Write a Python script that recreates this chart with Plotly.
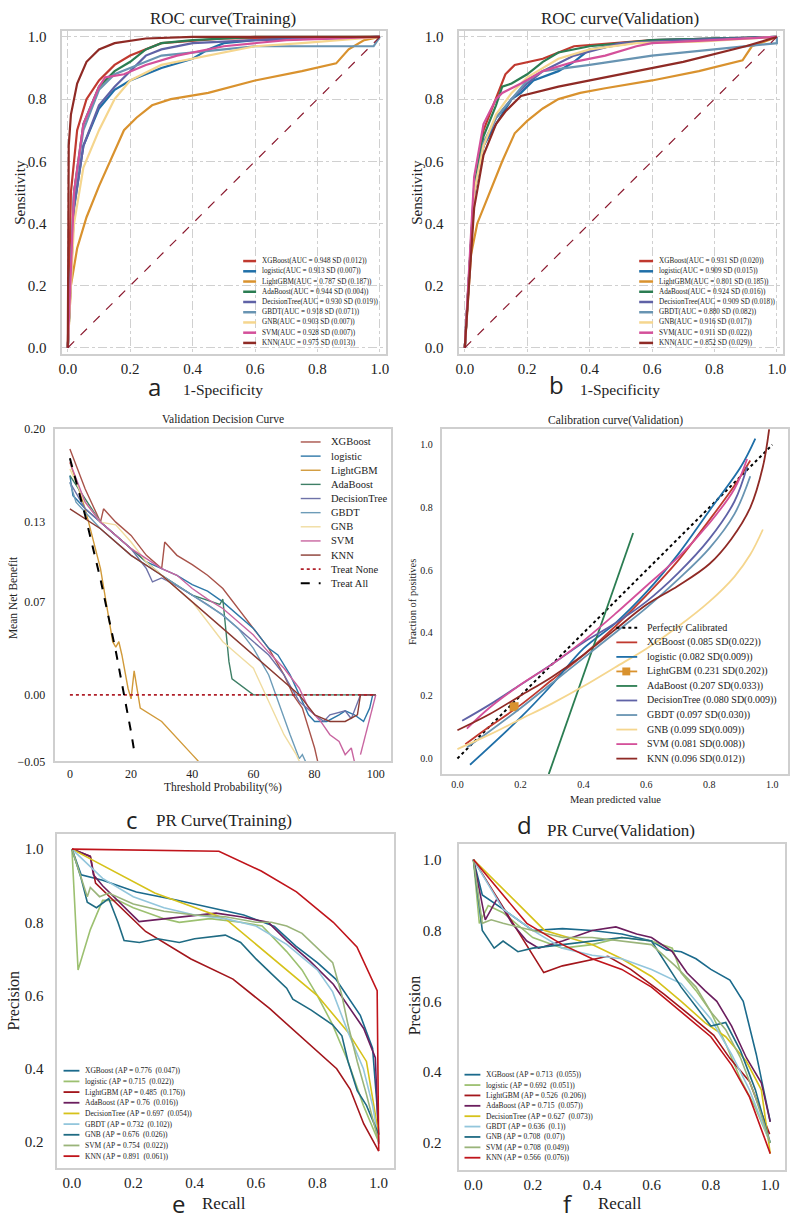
"""
Six-panel model comparison figure:
ROC (training / validation), decision curve, calibration curve, PR curves.
"""

import plotly.graph_objects as go

W, H = 799, 1227

MODELS = ["XGBoost", "logistic", "LightGBM", "AdaBoost", "DecisionTree",
          "GBDT", "GNB", "SVM", "KNN"]

# ---------------- ROC (training) ----------------
roc_tr = {
    "XGBoost": ([0, 0.01, 0.03, 0.06, 0.1, 0.15, 0.2, 0.3, 0.5, 1.0],
                [0, 0.5, 0.7, 0.8, 0.86, 0.91, 0.94, 0.98, 0.995, 1.0]),
    "logistic": ([0, 0.02, 0.05, 0.1, 0.15, 0.2, 0.3, 0.4, 0.45, 0.5, 0.6, 1.0],
                 [0, 0.45, 0.65, 0.77, 0.83, 0.86, 0.9, 0.93, 0.96, 0.98, 0.99, 1.0]),
    "LightGBM": ([0, 0.01, 0.03, 0.06, 0.1, 0.15, 0.18, 0.22, 0.27, 0.33, 0.45, 0.6, 0.75, 0.86, 0.9, 0.95, 1.0],
                 [0, 0.2, 0.32, 0.42, 0.52, 0.63, 0.7, 0.74, 0.78, 0.8, 0.82, 0.86, 0.89, 0.915, 0.96, 0.99, 1.0]),
    "AdaBoost": ([0, 0.02, 0.05, 0.1, 0.15, 0.2, 0.25, 0.3, 0.4, 0.6, 1.0],
                 [0, 0.5, 0.72, 0.84, 0.89, 0.92, 0.96, 0.98, 0.99, 1.0, 1.0]),
    "DecisionTree": ([0, 0.02, 0.05, 0.1, 0.15, 0.2, 0.25, 0.3, 0.4, 0.6, 1.0],
                     [0, 0.45, 0.65, 0.78, 0.84, 0.89, 0.94, 0.96, 0.98, 0.99, 1.0]),
    "GBDT": ([0, 0.02, 0.05, 0.1, 0.15, 0.2, 0.3, 0.5, 0.6, 0.98, 1.0],
             [0, 0.5, 0.7, 0.83, 0.88, 0.9, 0.94, 0.96, 0.97, 0.97, 1.0]),
    "GNB": ([0, 0.02, 0.05, 0.1, 0.15, 0.2, 0.3, 0.45, 0.6, 0.75, 1.0],
            [0, 0.4, 0.58, 0.7, 0.8, 0.86, 0.91, 0.94, 0.97, 0.98, 1.0]),
    "SVM": ([0, 0.02, 0.05, 0.1, 0.12, 0.18, 0.25, 0.35, 0.5, 0.7, 1.0],
            [0, 0.5, 0.72, 0.84, 0.87, 0.88, 0.91, 0.94, 0.97, 0.99, 1.0]),
    "KNN": ([0, 0.003, 0.01, 0.03, 0.06, 0.1, 0.15, 0.25, 0.4, 1.0],
            [0, 0.65, 0.75, 0.85, 0.92, 0.96, 0.98, 0.995, 1.0, 1.0]),
}
roc_tr_labels = ["XGBoost(AUC = 0.948 SD (0.012))", "logistic(AUC = 0.913 SD (0.007))",
                 "LightGBM(AUC = 0.787 SD (0.187))", "AdaBoost(AUC = 0.944 SD (0.004))",
                 "DecisionTree(AUC = 0.930 SD (0.019))", "GBDT(AUC = 0.918 SD (0.071))",
                 "GNB(AUC = 0.903 SD (0.007))", "SVM(AUC = 0.928 SD (0.007))",
                 "KNN(AUC = 0.975 SD (0.013))"]

# ---------------- ROC (validation) ----------------
roc_va = {
    "XGBoost": ([0, 0.03, 0.06, 0.1, 0.13, 0.16, 0.25, 0.35, 0.6, 1.0],
                [0, 0.5, 0.7, 0.8, 0.88, 0.91, 0.93, 0.97, 0.99, 1.0]),
    "logistic": ([0, 0.03, 0.06, 0.1, 0.15, 0.18, 0.22, 0.3, 0.35, 0.4, 0.6, 1.0],
                 [0, 0.5, 0.65, 0.72, 0.8, 0.82, 0.86, 0.89, 0.92, 0.96, 0.99, 1.0]),
    "LightGBM": ([0, 0.02, 0.04, 0.08, 0.12, 0.16, 0.2, 0.25, 0.3, 0.37, 0.45, 0.6, 0.75, 0.89, 0.92, 1.0],
                 [0, 0.3, 0.4, 0.5, 0.6, 0.69, 0.73, 0.77, 0.8, 0.82, 0.835, 0.86, 0.89, 0.925, 0.97, 1.0]),
    "AdaBoost": ([0, 0.03, 0.06, 0.1, 0.12, 0.15, 0.2, 0.25, 0.3, 0.4, 0.6, 1.0],
                 [0, 0.52, 0.68, 0.78, 0.84, 0.85, 0.88, 0.92, 0.95, 0.97, 0.99, 1.0]),
    "DecisionTree": ([0, 0.03, 0.06, 0.1, 0.15, 0.2, 0.25, 0.35, 0.5, 0.7, 1.0],
                     [0, 0.5, 0.65, 0.74, 0.8, 0.85, 0.89, 0.94, 0.98, 0.99, 1.0]),
    "GBDT": ([0, 0.03, 0.06, 0.1, 0.15, 0.2, 0.25, 0.4, 0.6, 0.8, 1.0, 1.0],
             [0, 0.5, 0.66, 0.74, 0.8, 0.86, 0.89, 0.91, 0.94, 0.96, 0.98, 1.0]),
    "GNB": ([0, 0.03, 0.06, 0.1, 0.15, 0.2, 0.3, 0.4, 0.55, 0.75, 1.0],
            [0, 0.5, 0.65, 0.75, 0.82, 0.87, 0.93, 0.96, 0.98, 0.985, 1.0]),
    "SVM": ([0, 0.03, 0.06, 0.1, 0.12, 0.18, 0.25, 0.35, 0.45, 0.55, 0.6, 1.0],
            [0, 0.55, 0.72, 0.8, 0.82, 0.85, 0.89, 0.92, 0.94, 0.97, 0.98, 1.0]),
    "KNN": ([0, 0.03, 0.06, 0.1, 0.13, 0.18, 0.3, 0.5, 0.7, 0.9, 1.0],
            [0, 0.45, 0.62, 0.72, 0.76, 0.81, 0.84, 0.88, 0.92, 0.97, 1.0]),
}
roc_va_labels = ["XGBoost(AUC = 0.931 SD (0.020))", "logistic(AUC = 0.909 SD (0.015))",
                 "LightGBM(AUC = 0.801 SD (0.185))", "AdaBoost(AUC = 0.924 SD (0.016))",
                 "DecisionTree(AUC = 0.909 SD (0.018))", "GBDT(AUC = 0.880 SD (0.082))",
                 "GNB(AUC = 0.916 SD (0.017))", "SVM(AUC = 0.911 SD (0.022))",
                 "KNN(AUC = 0.852 SD (0.029))"]

# ---------------- Decision curve (validation) ----------------
dca = {
    "XGBoost": ([0, 5, 10, 11, 15, 20, 25, 30, 31, 35, 40, 45, 50, 55, 60, 65, 70, 73, 76, 80, 81],
                [0.185, 0.155, 0.13, 0.14, 0.13, 0.12, 0.105, 0.095, 0.115, 0.105, 0.098, 0.09, 0.08,
                 0.065, 0.05, 0.035, 0.015, 0.0, -0.01, -0.04, -0.05]),
    "logistic": ([0, 1, 5, 10, 15, 20, 25, 30, 35, 40, 45, 50, 55, 60, 65, 68, 72, 75, 78, 80, 84, 88, 90, 93, 96, 98, 99, 100],
                 [0.165, 0.15, 0.14, 0.13, 0.12, 0.11, 0.1, 0.095, 0.09, 0.083, 0.078, 0.07, 0.06, 0.05,
                  0.035, 0.03, 0.015, 0.0, -0.015, -0.02, -0.02, -0.015, -0.012, -0.015, -0.02, -0.01, 0.0, 0.0]),
    "LightGBM": ([0, 5, 10, 14, 15, 16, 17, 19, 20, 21, 23, 30, 40, 42],
                 [0.175, 0.14, 0.095, 0.04, 0.036, 0.04, 0.03, 0.005, -0.003, 0.018, -0.01, -0.02, -0.045, -0.05]),
    "AdaBoost": ([0, 10, 20, 30, 40, 49, 50, 51, 52, 53, 57, 60, 100],
                 [0.165, 0.13, 0.11, 0.09, 0.075, 0.068, 0.072, 0.05, 0.025, 0.012, 0.005, 0.0, 0.0]),
    "DecisionTree": ([0, 5, 10, 20, 25, 27, 30, 35, 40, 45, 50, 55, 60, 65, 70, 75, 80, 83, 85, 90, 92, 95, 100],
                     [0.16, 0.14, 0.13, 0.11, 0.095, 0.085, 0.088, 0.082, 0.075, 0.068, 0.06, 0.05, 0.04, 0.03,
                      0.015, -0.005, -0.015, -0.02, -0.015, -0.012, -0.018, 0.0, 0.0]),
    "GBDT": ([0, 2, 10, 20, 30, 40, 50, 55, 60, 65, 68, 72, 75, 76, 77],
             [0.16, 0.145, 0.125, 0.105, 0.09, 0.075, 0.06, 0.05, 0.035, 0.015, -0.005, -0.03, -0.048, -0.045, -0.05]),
    "GNB": ([0, 5, 10, 15, 20, 25, 30, 35, 40, 45, 50, 55, 60, 63, 66, 70, 74, 75],
            [0.17, 0.145, 0.13, 0.128, 0.115, 0.1, 0.09, 0.08, 0.07, 0.055, 0.04, 0.03, 0.02, 0.005, -0.01,
             -0.03, -0.045, -0.05]),
    "SVM": ([0, 5, 10, 20, 30, 35, 40, 45, 50, 55, 60, 65, 70, 75, 78, 82, 85, 88, 90, 92, 93, None, 95, 100],
            [0.175, 0.145, 0.13, 0.11, 0.095, 0.09, 0.08, 0.072, 0.065, 0.055, 0.045, 0.032, 0.02, 0.005,
             -0.01, -0.02, -0.03, -0.035, -0.045, -0.04, -0.05, None, -0.045, 0.0]),
    "KNN": ([0, 10, 20, 30, 40, 50, 60, 70, 75, 80, 85, 90, 94, 95, 100],
            [0.14, 0.125, 0.105, 0.09, 0.07, 0.05, 0.03, 0.01, 0.0, -0.015, -0.02, -0.02, -0.015, 0.0, 0.0]),
}
treat_all_x = [0, 5, 10, 15, 20, 21]
treat_all_y = [0.178, 0.135, 0.087, 0.033, -0.028, -0.042]
treat_none_x = [0, 100]
treat_none_y = [0, 0]
dca_ticks = [-0.05, 0.0, 0.07, 0.13, 0.20]

# ---------------- Calibration (validation) ----------------
calib = {
    "XGBoost": ([0.025, 0.1, 0.2, 0.3, 0.4, 0.5, 0.6, 0.7, 0.8, 0.88, 0.93],
                [0.045, 0.1, 0.17, 0.25, 0.33, 0.42, 0.52, 0.63, 0.76, 0.87, 0.95]),
    "logistic": ([0.04, 0.2, 0.3, 0.4, 0.5, 0.6, 0.7, 0.8, 0.9, 0.946],
                 [-0.02, 0.13, 0.235, 0.35, 0.43, 0.53, 0.65, 0.79, 0.93, 1.02]),
    "LightGBM": ([0.18], [0.165]),
    "AdaBoost": ([0.29, 0.558], [-0.05, 0.719]),
    "DecisionTree": ([0.015, 0.1, 0.2, 0.3, 0.4, 0.5, 0.6, 0.7, 0.8, 0.88, 0.92],
                     [0.12, 0.17, 0.235, 0.3, 0.37, 0.43, 0.5, 0.59, 0.7, 0.82, 0.93]),
    "GBDT": ([0.03, 0.1, 0.2, 0.3, 0.4, 0.5, 0.6, 0.7, 0.8, 0.88, 0.93],
             [0.035, 0.085, 0.16, 0.24, 0.32, 0.4, 0.48, 0.57, 0.67, 0.78, 0.9]),
    "GNB": ([0.0, 0.1, 0.2, 0.3, 0.4, 0.5, 0.6, 0.7, 0.8, 0.88, 0.93, 0.97],
            [0.03, 0.075, 0.125, 0.175, 0.23, 0.29, 0.35, 0.42, 0.5, 0.58, 0.65, 0.73]),
    "SVM": ([0.03, 0.1, 0.2, 0.3, 0.4, 0.5, 0.6, 0.7, 0.8, 0.88, 0.92],
            [0.095, 0.16, 0.235, 0.3, 0.375, 0.46, 0.55, 0.64, 0.75, 0.86, 0.955]),
    "KNN": ([0.0, 0.1, 0.2, 0.3, 0.4, 0.5, 0.6, 0.7, 0.8, 0.87, 0.93, 0.97, 0.99],
            [0.09, 0.14, 0.2, 0.26, 0.33, 0.41, 0.49, 0.55, 0.62, 0.7, 0.8, 0.93, 1.05]),
}
calib_labels = ["Perfectly Calibrated", "XGBoost (0.085 SD(0.022))", "logistic (0.082 SD(0.009))",
                "LightGBM (0.231 SD(0.202))", "AdaBoost (0.207 SD(0.033))",
                "DecisionTree (0.080 SD(0.009))", "GBDT (0.097 SD(0.030))",
                "GNB (0.099 SD(0.009))", "SVM (0.081 SD(0.008))", "KNN (0.096 SD(0.012))"]

# ---------------- PR (training) ----------------
pr_tr = {
    "XGBoost": ([0, 0.03, 0.1, 0.21, 0.34, 0.47, 0.56, 0.66, 0.73, 0.8, 0.86, 0.94, 0.98, 0.995, 1.0],
                [1.0, 0.93, 0.915, 0.883, 0.861, 0.838, 0.82, 0.789, 0.735, 0.69, 0.645, 0.546, 0.456, 0.294, 0.22]),
    "logistic": ([0, 0.02, 0.06, 0.1, 0.15, 0.2, 0.3, 0.35, 0.45, 0.55, 0.62, 0.7, 0.75, 0.8, 0.85, 0.9, 0.95, 1.0],
                 [1.0, 0.67, 0.78, 0.86, 0.86, 0.84, 0.81, 0.8, 0.81, 0.8, 0.79, 0.72, 0.67, 0.6, 0.52, 0.42, 0.3, 0.2]),
    "LightGBM": ([0, 0.06, 0.077, 0.24, 0.388, 0.525, 0.645, 0.754, 0.863, 0.907, 0.951, 1.0],
                 [1.0, 0.98, 0.907, 0.775, 0.7, 0.645, 0.564, 0.483, 0.4, 0.344, 0.25, 0.175]),
    "AdaBoost": ([0, 0.06, 0.07, 0.1, 0.219, 0.3, 0.4, 0.47, 0.55, 0.64, 0.7, 0.776, 0.852, 0.951, 0.989, 1.0],
                 [1.0, 0.98, 0.93, 0.9, 0.802, 0.81, 0.82, 0.825, 0.815, 0.8, 0.75, 0.694, 0.631, 0.51, 0.43, 0.195]),
    "DecisionTree": ([0, 0.27, 0.5, 0.6, 0.7, 0.8, 0.9, 0.96, 1.0],
                     [1.0, 0.88, 0.81, 0.74, 0.67, 0.6, 0.5, 0.42, 0.22]),
    "GBDT": ([0, 0.1, 0.2, 0.3, 0.4, 0.5, 0.6, 0.7, 0.8, 0.85, 0.9, 0.95, 0.98, 1.0],
             [1.0, 0.92, 0.87, 0.84, 0.82, 0.81, 0.79, 0.74, 0.67, 0.61, 0.5, 0.4, 0.3, 0.2]),
    "GNB": ([0, 0.03, 0.05, 0.08, 0.12, 0.15, 0.17, 0.22, 0.28, 0.35, 0.4, 0.5, 0.55, 0.6, 0.65, 0.7,
             0.72, 0.78, 0.85, 0.88, 0.9, 0.93, 0.96, 1.0],
            [1.0, 0.92, 0.855, 0.84, 0.865, 0.8, 0.75, 0.745, 0.755, 0.745, 0.755, 0.765, 0.745, 0.7, 0.66,
             0.62, 0.59, 0.56, 0.52, 0.49, 0.42, 0.34, 0.3, 0.22]),
    "SVM": ([0, 0.05, 0.06, 0.09, 0.12, 0.2, 0.3, 0.4, 0.5, 0.6, 0.65, 0.7, 0.75, 0.8, 0.85, 0.88, 0.9,
             0.93, 0.96, 1.0],
            [1.0, 0.87, 0.895, 0.87, 0.88, 0.85, 0.83, 0.82, 0.815, 0.8, 0.8, 0.79, 0.77, 0.73, 0.69, 0.6,
             0.52, 0.42, 0.33, 0.2]),
    "KNN": ([0, 0.479, 0.617, 0.732, 0.852, 0.929, 0.995, 1.0],
            [1.0, 0.994, 0.94, 0.883, 0.8, 0.733, 0.613, 0.175]),
}
pr_tr_labels = ["XGBoost (AP = 0.776  (0.047))", "logistic (AP = 0.715  (0.022))",
                "LightGBM (AP = 0.485  (0.176))", "AdaBoost (AP = 0.76  (0.016))",
                "DecisionTree (AP = 0.697  (0.054))", "GBDT (AP = 0.732  (0.102))",
                "GNB (AP = 0.676  (0.026))", "SVM (AP = 0.754  (0.022))",
                "KNN (AP = 0.891  (0.061))"]

# ---------------- PR (validation) ----------------
pr_va = {
    "XGBoost": ([0, 0.03, 0.1, 0.2, 0.3, 0.4, 0.5, 0.6, 0.65, 0.7, 0.75, 0.8, 0.864, 0.909, 0.953, 0.992, 1.0],
                [1.0, 0.9, 0.86, 0.8, 0.805, 0.8, 0.79, 0.77, 0.745, 0.74, 0.72, 0.69, 0.66, 0.6, 0.45, 0.29, 0.26]),
    "logistic": ([0, 0.02, 0.05, 0.1, 0.2, 0.3, 0.4, 0.5, 0.6, 0.67, 0.7, 0.75, 0.8, 0.85, 0.9, 0.95, 1.0],
                 [1.0, 0.82, 0.87, 0.85, 0.78, 0.75, 0.76, 0.78, 0.77, 0.75, 0.68, 0.63, 0.57, 0.48, 0.38, 0.3, 0.2]),
    "LightGBM": ([0, 0.237, 0.3, 0.453, 0.53, 0.642, 0.73, 0.81, 0.864, 0.93, 0.998],
                 [1.0, 0.681, 0.7, 0.727, 0.69, 0.62, 0.56, 0.504, 0.439, 0.374, 0.225]),
    "AdaBoost": ([0, 0.04, 0.08, 0.13, 0.18, 0.22, 0.3, 0.4, 0.48, 0.55, 0.6, 0.67, 0.72, 0.78, 0.82,
                  0.87, 0.92, 0.97, 1.0],
                 [1.0, 0.83, 0.89, 0.82, 0.77, 0.75, 0.77, 0.8, 0.81, 0.79, 0.78, 0.74, 0.68, 0.63, 0.6,
                  0.53, 0.44, 0.37, 0.26]),
    "DecisionTree": ([0, 0.24, 0.4, 0.5, 0.6, 0.7, 0.78, 0.85, 0.92, 0.97, 1.0],
                     [1.0, 0.8, 0.76, 0.72, 0.67, 0.6, 0.54, 0.5, 0.43, 0.35, 0.17]),
    "GBDT": ([0, 0.1, 0.2, 0.3, 0.4, 0.5, 0.6, 0.7, 0.8, 0.87, 0.93, 1.0],
             [1.0, 0.86, 0.8, 0.75, 0.73, 0.72, 0.69, 0.65, 0.55, 0.45, 0.35, 0.2]),
    "GNB": ([0, 0.03, 0.07, 0.1, 0.15, 0.2, 0.3, 0.4, 0.5, 0.6, 0.7, 0.8, 0.85, 0.9, 0.95, 1.0],
            [1.0, 0.8, 0.75, 0.77, 0.74, 0.75, 0.76, 0.77, 0.78, 0.77, 0.64, 0.53, 0.54, 0.46, 0.35, 0.2]),
    "SVM": ([0, 0.03, 0.06, 0.1, 0.2, 0.3, 0.4, 0.5, 0.6, 0.68, 0.75, 0.8, 0.85, 0.9, 0.95, 1.0],
            [1.0, 0.82, 0.83, 0.82, 0.8, 0.78, 0.78, 0.77, 0.76, 0.7, 0.64, 0.57, 0.52, 0.44, 0.33, 0.2]),
    "KNN": ([0, 0.18, 0.3, 0.4, 0.5, 0.6, 0.7, 0.8, 0.87, 0.93, 1.0],
            [1.0, 0.82, 0.76, 0.72, 0.69, 0.64, 0.57, 0.5, 0.42, 0.33, 0.17]),
}
pr_va_labels = ["XGBoost (AP = 0.713  (0.055))", "logistic (AP = 0.692  (0.051))",
                "LightGBM (AP = 0.526  (0.206))", "AdaBoost (AP = 0.715  (0.057))",
                "DecisionTree (AP = 0.627  (0.073))", "GBDT (AP = 0.636  (0.1))",
                "GNB (AP = 0.708  (0.07))", "SVM (AP = 0.708  (0.049))",
                "KNN (AP = 0.566  (0.076))"]

# colour sets
roc_colors = ["#c0392f", "#1f6fa8", "#d9922e", "#2b7d52", "#5f62a6",
              "#6894b2", "#f5d68e", "#d4509a", "#8f2a25"]
dca_colors = ["#a8534a", "#2e78a8", "#d19a3a", "#3e7f66", "#6e72a8",
              "#6d9cb8", "#f0dca0", "#c865a0", "#8a3b32"]
pr_colors = ["#1b6a8c", "#9cc070", "#a3161c", "#6b1e5e", "#d6c21a",
             "#93c6dc", "#1f6b83", "#9ab47a", "#c0141b"]

SERIF = "Liberation Serif, Times New Roman, serif"
SANS = "Open Sans, DejaVu Sans, sans-serif"


def px(x):
    # window pixel -> paper fraction
    return x / W


def py(y):
    return 1 - y / H


fig = go.Figure()
shapes = []
annos = []


def axis_pair(n, xdom, ydom, xr, yr, grid, tick_font, xstand, ystand, xdtick, ytickvals, ytickfmt):
    common = dict(showline=True, mirror=True, linecolor="#cfcfcf", linewidth=2,
                  ticks="", zeroline=False, showgrid=grid, gridcolor="#d0d0d0",
                  griddash="dashdot", gridwidth=1,
                  tickfont=dict(family=SERIF, size=tick_font, color="#222"))
    xa = dict(domain=[px(xdom[0]), px(xdom[1])], range=xr, anchor="y%s" % n,
              ticklabelstandoff=xstand, **common)
    if xdtick == 20:
        xa.update(tick0=0, dtick=20)
    else:
        xa.update(tick0=0, dtick=0.2, tickformat=".1f")
    ya = dict(domain=[py(ydom[1]), py(ydom[0])], range=yr, anchor="x%s" % n,
              ticklabelstandoff=ystand, tickvals=ytickvals, tickformat=ytickfmt, **common)
    return xa, ya


def text(x, y, s, size, family=SERIF, angle=0, anchor="center"):
    annos.append(dict(x=px(x), y=py(y), xref="paper", yref="paper", text=s,
                      showarrow=False, xanchor=anchor, yanchor="middle",
                      textangle=angle, font=dict(family=family, size=size, color="#222")))


def legend(x0, seg, y0, step, labels, colors, dashes, widths, size, gap=4):
    for i, lab in enumerate(labels):
        y = y0 + i * step
        shapes.append(dict(type="line", xref="paper", yref="paper",
                           x0=px(x0), x1=px(x0 + seg), y0=py(y), y1=py(y),
                           line=dict(color=colors[i], width=widths[i], dash=dashes[i])))
        text(x0 + seg + gap, y, lab, size, anchor="left")


unit_ticks = [0.0, 0.2, 0.4, 0.6, 0.8, 1.0]
pr_ticks = [0.2, 0.4, 0.6, 0.8, 1.0]
layout_axes = {}

# ---- panel a ----
xa, ya = axis_pair("", (59, 386), (24, 351), [-0.02, 1.02], [-0.02, 1.02], True, 15, 0, 10,
                   0.2, unit_ticks, ".1f")
layout_axes["xaxis"], layout_axes["yaxis"] = xa, ya
for m, c in zip(MODELS, roc_colors):
    fig.add_trace(go.Scatter(x=roc_tr[m][0], y=roc_tr[m][1], mode="lines", name=m,
                             line=dict(color=c, width=2.2), xaxis="x", yaxis="y"))
fig.add_trace(go.Scatter(x=[0, 1], y=[0, 1], mode="lines", line=dict(color="#8b1a2f", width=1.2, dash="dash"),
                         xaxis="x", yaxis="y"))
legend(242, 13, 257, 10.35, roc_tr_labels, roc_colors, ["solid"] * 9, [2.5] * 9, 7.2)
text(222, 12, "ROC curve(Training)", 17)
text(17, 187, "Sensitivity", 15, angle=-90)
text(222, 387, "1-Specificity", 15.5)
text(153, 384, "a", 24, family=SANS)

# ---- panel b ----
xa, ya = axis_pair("2", (459, 786), (24, 351), [-0.02, 1.02], [-0.02, 1.02], True, 15, 0, 10,
                   0.2, unit_ticks, ".1f")
layout_axes["xaxis2"], layout_axes["yaxis2"] = xa, ya
for m, c in zip(MODELS, roc_colors):
    fig.add_trace(go.Scatter(x=roc_va[m][0], y=roc_va[m][1], mode="lines", name=m,
                             line=dict(color=c, width=2.2), xaxis="x2", yaxis="y2"))
fig.add_trace(go.Scatter(x=[0, 1], y=[0, 1], mode="lines", line=dict(color="#8b1a2f", width=1.2, dash="dash"),
                         xaxis="x2", yaxis="y2"))
legend(641, 14, 257, 10.35, roc_va_labels, roc_colors, ["solid"] * 9, [2.5] * 9, 7.2)
text(622, 12, "ROC curve(Validation)", 17)
text(417, 187, "Sensitivity", 15, angle=-90)
text(622, 387, "1-Specificity", 15.5)
text(558, 382, "b", 24, family=SANS)

# ---- panel c ----
xa, ya = axis_pair("3", (52, 391), (427, 763), [-5, 105], [-0.05, 0.20], False, 12, 0, 5,
                   20, dca_ticks, ".2f")
layout_axes["xaxis3"], layout_axes["yaxis3"] = xa, ya
for m, c in zip(MODELS, dca_colors):
    fig.add_trace(go.Scatter(x=dca[m][0], y=dca[m][1], mode="lines", name=m, connectgaps=False,
                             line=dict(color=c, width=1.4), xaxis="x3", yaxis="y3"))
fig.add_trace(go.Scatter(x=treat_none_x, y=treat_none_y, mode="lines",
                         line=dict(color="#b0202a", width=1.8, dash="dot"), xaxis="x3", yaxis="y3"))
fig.add_trace(go.Scatter(x=treat_all_x, y=treat_all_y, mode="lines",
                         line=dict(color="black", width=2, dash="dash"), xaxis="x3", yaxis="y3"))
legend(300, 20, 440, 14.3, MODELS + ["Treat None", "Treat All"],
       dca_colors + ["#b0202a", "black"], ["solid"] * 9 + ["dot", "dash"],
       [1.4] * 9 + [1.8, 2], 10.5, gap=8)
text(222, 417, "Validation Decision Curve", 11.5)
text(10, 597, "Mean Net Benefit", 11.5, angle=-90)
text(222, 790, "Threshold Probability(%)", 11.5)
text(130, 822, "c", 24, family=SANS)

# ---- panel d ----
xa, ya = axis_pair("4", (442, 791), (427, 776), [-0.05, 1.05], [-0.05, 1.05], False, 10, 0, 5,
                   0.2, unit_ticks, ".1f")
layout_axes["xaxis4"], layout_axes["yaxis4"] = xa, ya
fig.add_trace(go.Scatter(x=[0, 1], y=[0, 1], mode="lines", line=dict(color="black", width=2, dash="dot"),
                         xaxis="x4", yaxis="y4"))
for m, c in zip(MODELS, roc_colors):
    if m == "LightGBM":
        fig.add_trace(go.Scatter(x=calib[m][0], y=calib[m][1], mode="markers",
                                 marker=dict(color=c, symbol="square", size=9),
                                 xaxis="x4", yaxis="y4"))
    else:
        fig.add_trace(go.Scatter(x=calib[m][0], y=calib[m][1], mode="lines", line_shape="spline",
                                 line=dict(color=c, width=1.8), xaxis="x4", yaxis="y4"))
legend(618, 21, 628, 14.7, calib_labels, ["black"] + roc_colors, ["dot"] + ["solid"] * 9,
       [2] + [1.8] * 9, 10, gap=8)
shapes.append(dict(type="rect", xref="paper", yref="paper",
                   x0=px(624), x1=px(632), y0=py(628 + 3 * 14.7 - 4), y1=py(628 + 3 * 14.7 + 4),
                   fillcolor=roc_colors[2], line=dict(width=0)))
text(617, 418, "Calibration curve(Validation)", 11.5)
text(412, 602, "Fraction of positives", 10.5, angle=-90)
text(617, 802, "Mean predicted value", 10.5)
text(525, 827, "d", 24, family=SANS)

# ---- panel e ----
xa, ya = axis_pair("5", (54, 394), (837, 1174), [-0.05, 1.05], [0.13, 1.04], False, 15, 0, 8,
                   0.2, pr_ticks, ".1f")
layout_axes["xaxis5"], layout_axes["yaxis5"] = xa, ya
for m, c in zip(MODELS, pr_colors):
    fig.add_trace(go.Scatter(x=pr_tr[m][0], y=pr_tr[m][1], mode="lines", name=m,
                             line=dict(color=c, width=1.6), xaxis="x5", yaxis="y5"))
legend(61, 16, 1076, 10.8, pr_tr_labels, pr_colors, ["solid"] * 9, [1.8] * 9, 7.5)
text(223, 823, "PR Curve(Training)", 17)
text(11, 1005, "Precision", 16, angle=-90)
text(223, 1210, "Recall", 17)
text(177, 1210, "e", 24, family=SANS)

# ---- panel f ----
xa, ya = axis_pair("6", (459, 788), (847, 1176), [-0.05, 1.05], [0.125, 1.043], False, 15, 0, 12,
                   0.2, pr_ticks, ".1f")
layout_axes["xaxis6"], layout_axes["yaxis6"] = xa, ya
for m, c in zip(MODELS, pr_colors):
    fig.add_trace(go.Scatter(x=pr_va[m][0], y=pr_va[m][1], mode="lines", name=m,
                             line=dict(color=c, width=1.6), xaxis="x6", yaxis="y6"))
legend(465, 16, 1080, 10.5, pr_va_labels, pr_colors, ["solid"] * 9, [1.8] * 9, 7.5)
text(623, 833, "PR Curve(Validation)", 17)
text(415, 1010, "Precision", 16, angle=-90)
text(622, 1210, "Recall", 17)
text(569, 1210, "f", 24, family=SANS)

fig.update_layout(
    width=W, height=H,
    margin=dict(l=0, r=0, t=0, b=0),
    paper_bgcolor="white", plot_bgcolor="white",
    showlegend=False,
    shapes=shapes, annotations=annos,
    **layout_axes,
)

# figure is exactly the window size, so drop the page's default body margin
fig.write_html("out.html",
               config={"displayModeBar": False},
               post_script="document.body.style.margin='0';document.body.style.overflow='hidden';")
